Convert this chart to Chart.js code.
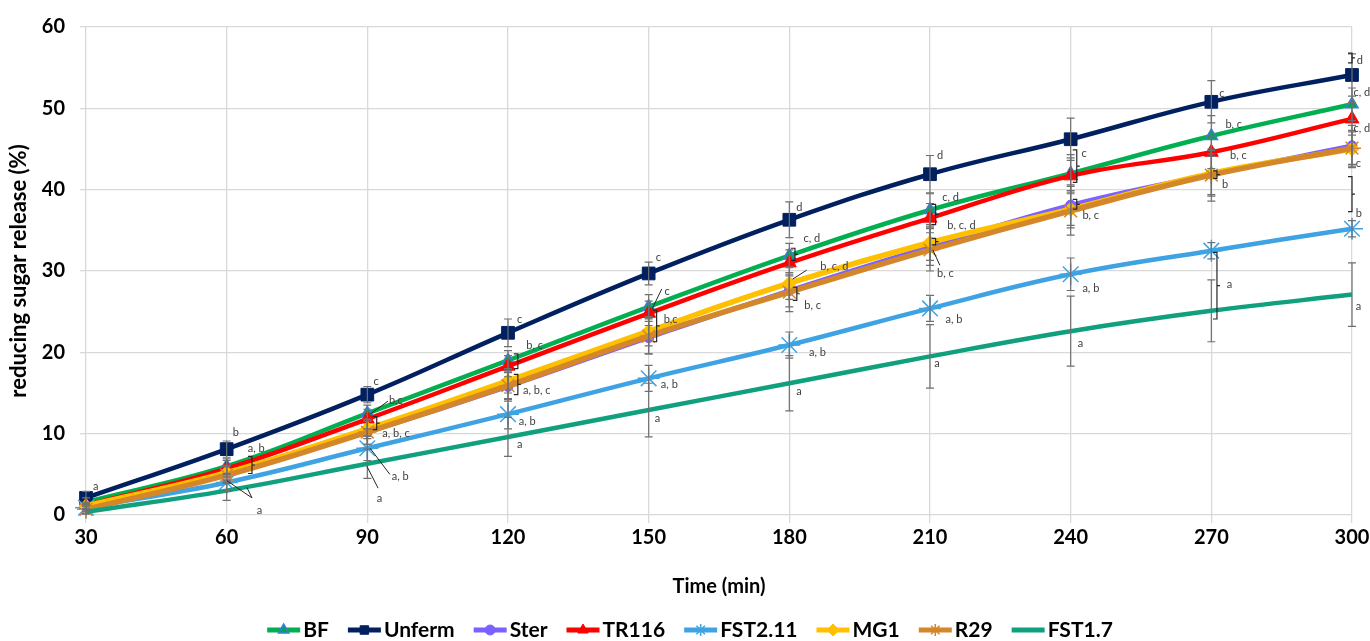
<!DOCTYPE html>
<html>
<head>
<meta charset="utf-8">
<script src="https://cdn.jsdelivr.net/npm/chart.js@4.4.0/dist/chart.umd.min.js"></script>
<style>
    html, body { margin: 0; padding: 0; background: #fff; }
    #wrap { width: 1370px; height: 641px; }
</style>
</head>
<body>
<div id="wrap"><canvas id="grafico" width="1370" height="641"></canvas></div>
<script>
// eixo x (min) e eixo y (%)
const tempos = [30, 60, 90, 120, 150, 180, 210, 240, 270, 300];
const ticksY = [0, 10, 20, 30, 40, 50, 60];
const nomes = ['BF', 'Unferm', 'Ster', 'TR116', 'FST2.11', 'MG1', 'R29', 'FST1.7'];

// medias
const bf      = [1.6, 6.0, 12.5, 19.0, 25.6, 31.9, 37.5, 42.0, 46.6, 50.5];
const unferm  = [2.1, 8.1, 14.8, 22.4, 29.7, 36.3, 41.9, 46.2, 50.8, 54.1];
const ster    = [1.0, 5.0, 10.2, 15.8, 21.8, 27.6, 33.0, 38.1, 41.9, 45.4];
const tr116   = [1.2, 5.7, 11.8, 18.3, 24.8, 31.0, 36.5, 41.7, 44.6, 48.7];
const fst211  = [0.9, 4.0, 8.2, 12.4, 16.8, 20.9, 25.4, 29.6, 32.5, 35.2];
const mg1     = [1.1, 5.2, 10.6, 16.5, 22.6, 28.5, 33.5, 37.6, 42.0, 45.0];
const r29     = [0.7, 4.9, 10.2, 15.9, 22.0, 27.4, 32.6, 37.4, 41.8, 45.1];
const fst17   = [0.4, 3.0, 6.3, 9.6, 12.9, 16.2, 19.5, 22.6, 25.1, 27.1];

// desvios (barras de erro)
const dpBf     = [0.5, 0.9, 1.0, 1.2, 1.5, 1.5, 2.0, 2.3, 2.5, 2.0];
const dpUnferm = [0.8, 1.0, 1.0, 1.7, 1.4, 2.2, 2.3, 2.6, 2.6, 2.6];
const dpSter   = [0.4, 1.0, 1.5, 1.8, 2.0, 2.0, 2.3, 2.5, 2.5, 2.5];
const dpTr116  = [0.4, 1.0, 1.2, 1.3, 1.5, 1.6, 1.8, 2.2, 2.0, 2.0];
const dpFst211 = [0.5, 1.0, 1.5, 1.8, 1.6, 1.6, 1.6, 2.0, 1.0, 1.0];
const dpMg1    = [0.4, 0.9, 1.2, 1.5, 1.8, 2.0, 2.2, 2.3, 2.8, 2.3];
const dpR29    = [0.5, 1.0, 1.5, 1.6, 2.2, 2.4, 2.6, 3.0, 3.2, 2.0];
const dpFst17  = [0.3, 1.2, 1.8, 2.4, 3.3, 3.4, 3.9, 4.3, 3.8, 3.9];

// letras de significancia: [tempo, valor, texto]
const letras = [
    [31.5, 3.5, 'a'],
    [61.3, 10.2, 'b'], [64.5, 8.2, 'a, b'], [66.4, 0.6, 'a'],
    [91.3, 16.4, 'c'], [94.6, 14.1, 'b,c'], [93.2, 10.0, 'a, b, c'], [95.2, 4.7, 'a, b'], [92.0, 2.0, 'a'],
    [121.9, 24.1, 'c'], [123.9, 20.9, 'b, c'], [123.2, 15.3, 'a, b, c'], [122.3, 11.5, 'a, b'], [121.9, 8.7, 'a'],
    [151.5, 31.7, 'c'], [153.4, 27.5, 'c'], [153.2, 24.1, 'b,c'], [152.6, 16.0, 'a, b'], [151.3, 11.9, 'a'],
    [181.5, 37.8, 'd'], [183.0, 34.0, 'c, d'], [186.6, 30.6, 'b, c, d'], [183.2, 25.8, 'b, c'], [184.2, 20.0, 'a, b'], [181.5, 15.2, 'a'],
    [211.5, 44.2, 'd'], [212.6, 39.0, 'c, d'], [213.7, 35.6, 'b, c, d'], [211.5, 29.7, 'b, c'], [213.3, 24.1, 'a, b'], [210.9, 18.6, 'a'],
    [242.3, 44.4, 'c'], [242.5, 36.8, 'b, c'], [242.5, 27.9, 'a, b'], [241.5, 21.1, 'a'],
    [271.7, 51.8, 'c'], [273.0, 48.0, 'b, c'], [274.0, 44.2, 'b, c'], [272.3, 40.6, 'b'], [273.3, 28.3, 'a'],
    [301.0, 55.9, 'd'], [300.3, 51.9, 'c, d'], [300.3, 47.5, 'c, d'], [300.8, 43.2, 'c'], [300.8, 37.1, 'b'], [300.8, 25.6, 'a']
];

// chaves "]" agrupando pontos: [tempo, topo, base]
const chaves = [
    [65.4, 7.2, 5.1], [92.0, 12.1, 10.5],
    [122.1, 19.8, 18.0], [122.1, 17.3, 14.8],
    [151.7, 25.2, 21.3],
    [181.2, 32.8, 31.3], [181.6, 28.0, 26.4],
    [211.2, 38.2, 35.7], [211.2, 34.0, 33.2],
    [241.3, 44.9, 40.9], [241.3, 38.8, 37.6],
    [271.2, 32.3, 24.1], [271.2, 42.3, 41.4],
    [300.0, 56.8, 55.6], [300.0, 41.6, 37.3]
];

// linhas guia das letras: [t1, v1, t2, v2]
const guias = [
    [60.1, 4.2, 65.4, 2.1], [64.3, 3.4, 65.4, 2.1],
    [90.6, 12.4, 94.4, 14.0], [90.6, 8.2, 94.8, 5.0], [89.9, 6.0, 92.3, 3.3],
    [150.7, 25.3, 152.8, 27.8],
    [180.7, 29.0, 183.7, 30.1],
    [210.6, 32.6, 212.1, 30.7]
];

const FONTE = 'Lato, "Liberation Sans", sans-serif';

function serie(nome, valores, dp, cor, estilo) {
    return Object.assign({
        label: nome,
        data: valores.map((v, i) => ({ x: tempos[i], y: v })),
        erro: dp,
        borderColor: cor,
        backgroundColor: cor,
        pointBackgroundColor: cor,
        pointBorderColor: cor,
        pointBorderWidth: 1,
        borderWidth: 4.5,
        tension: 0.4,
        clip: false
    }, estilo);
}

const dados = {
    datasets: [
        serie('BF', bf, dpBf, '#00B050', { pointStyle: 'triangle', pointRadius: 7, pointBackgroundColor: '#00A650', pointBorderColor: '#3C7DD9', pointBorderWidth: 1.5, order: 8 }),
        serie('Unferm', unferm, dpUnferm, '#002060', { pointStyle: 'rect', pointRadius: 9, order: 7 }),
        serie('Ster', ster, dpSter, '#7B61FF', { pointStyle: 'circle', pointRadius: 5, order: 6 }),
        serie('TR116', tr116, dpTr116, '#FF0000', { pointStyle: 'triangle', pointRadius: 8, order: 5 }),
        serie('FST2.11', fst211, dpFst211, '#3FA3E3', { pointStyle: 'star', pointRadius: 11, pointBorderWidth: 1.5, pointBackgroundColor: 'transparent', order: 4 }),
        serie('MG1', mg1, dpMg1, '#FFC000', { pointStyle: 'rectRot', pointRadius: 7, borderWidth: 5.5, order: 3 }),
        serie('R29', r29, dpR29, '#D4862A', { pointStyle: 'star', pointRadius: 9, pointBorderWidth: 1.5, pointBackgroundColor: 'transparent', borderWidth: 5.5, order: 2 }),
        serie('FST1.7', fst17, dpFst17, '#10A07E', { pointRadius: 0, borderWidth: 4.5, order: 1 })
    ]
};

// barras de erro, chaves, guias e letras
const pluginAnotacoes = {
    id: 'anotacoes',
    afterDatasetsDraw(chart) {
        const ctx = chart.ctx;
        const sx = chart.scales.x;
        const sy = chart.scales.y;
        ctx.save();

        ctx.strokeStyle = '#707070';
        ctx.lineWidth = 1.2;
        chart.data.datasets.forEach((ds) => {
            ds.data.forEach((p, i) => {
                const x = sx.getPixelForValue(p.x);
                const yA = sy.getPixelForValue(p.y + ds.erro[i]);
                const yB = sy.getPixelForValue(p.y - ds.erro[i]);
                ctx.beginPath();
                ctx.moveTo(x, yA); ctx.lineTo(x, yB);
                ctx.moveTo(x - 4, yA); ctx.lineTo(x + 4, yA);
                ctx.moveTo(x - 4, yB); ctx.lineTo(x + 4, yB);
                ctx.stroke();
            });
        });

        ctx.strokeStyle = '#262626';
        ctx.lineWidth = 1.2;
        chaves.forEach((c) => {
            const x = sx.getPixelForValue(c[0]);
            const yA = sy.getPixelForValue(c[1]);
            const yB = sy.getPixelForValue(c[2]);
            ctx.beginPath();
            ctx.moveTo(x - 4, yA); ctx.lineTo(x, yA); ctx.lineTo(x, yB); ctx.lineTo(x - 4, yB);
            ctx.moveTo(x, (yA + yB) / 2); ctx.lineTo(x + 3, (yA + yB) / 2);
            ctx.stroke();
        });

        ctx.lineWidth = 1;
        guias.forEach((g) => {
            ctx.beginPath();
            ctx.moveTo(sx.getPixelForValue(g[0]), sy.getPixelForValue(g[1]));
            ctx.lineTo(sx.getPixelForValue(g[2]), sy.getPixelForValue(g[3]));
            ctx.stroke();
        });

        ctx.fillStyle = '#404040';
        ctx.font = '11px ' + FONTE;
        ctx.textAlign = 'left';
        ctx.textBaseline = 'middle';
        letras.forEach((l) => {
            ctx.fillText(l[2], sx.getPixelForValue(l[0]), sy.getPixelForValue(l[1]));
        });
        ctx.restore();
    }
};

// legenda desenhada a mao (linha + marcador + texto)
const pluginLegenda = {
    id: 'legendaLinhas',
    afterDraw(chart) {
        const ctx = chart.ctx;
        const compLinha = 33;
        const espTexto = 3;
        const espItem = 19;
        const yLeg = 630;
        ctx.save();
        ctx.font = 'bold 21px ' + FONTE;
        ctx.textBaseline = 'middle';
        ctx.textAlign = 'left';
        const larguras = chart.data.datasets.map((ds) => ctx.measureText(ds.label).width);
        let total = 0;
        larguras.forEach((w) => { total += compLinha + espTexto + w + espItem; });
        total -= espItem;
        let x = 690 - total / 2;
        chart.data.datasets.forEach((ds, i) => {
            ctx.strokeStyle = ds.borderColor;
            ctx.lineWidth = 5;
            ctx.beginPath();
            ctx.moveTo(x, yLeg); ctx.lineTo(x + compLinha, yLeg);
            ctx.stroke();
            if (ds.pointRadius > 0 && Chart.helpers && Chart.helpers.drawPoint) {
                ctx.fillStyle = ds.pointBackgroundColor;
                ctx.strokeStyle = ds.pointBorderColor;
                ctx.lineWidth = ds.pointBorderWidth;
                Chart.helpers.drawPoint(ctx, {
                    pointStyle: ds.pointStyle,
                    radius: Math.min(ds.pointRadius, 6),
                    rotation: 0,
                    borderWidth: ds.pointBorderWidth
                }, x + compLinha / 2, yLeg);
            }
            ctx.fillStyle = '#000';
            ctx.fillText(ds.label, x + compLinha + espTexto, yLeg);
            x += compLinha + espTexto + larguras[i] + espItem;
        });
        ctx.restore();
    }
};

const config = {
    type: 'line',
    data: dados,
    options: {
        responsive: false,
        animation: false,
        layout: { padding: { top: 22, right: 18, bottom: 42, left: 0 } },
        plugins: {
            legend: { display: false },
            tooltip: { enabled: false }
        },
        scales: {
            x: {
                type: 'linear',
                min: 30,
                max: 300,
                afterFit: (escala) => {
                    escala.height = 84;
                    escala.paddingRight = 0;
                    escala.paddingLeft = 0;
                },
                ticks: {
                    stepSize: 30,
                    color: '#000',
                    padding: 3,
                    font: { family: FONTE, size: 20, weight: 'bold' }
                },
                grid: { color: '#d9d9d9', lineWidth: 1.3, tickLength: 8 },
                border: { display: false },
                title: {
                    display: true,
                    text: 'Time (min)',
                    color: '#000',
                    padding: { top: 0, bottom: 0 },
                    font: { family: FONTE, size: 20, weight: 'bold' }
                }
            },
            y: {
                min: 0,
                max: 60,
                afterFit: (escala) => { escala.width = 86; },
                afterBuildTicks: (escala) => { escala.ticks = ticksY.map((v) => ({ value: v })); },
                ticks: {
                    color: '#000',
                    padding: 15,
                    font: { family: FONTE, size: 20, weight: 'bold' }
                },
                grid: { color: '#d9d9d9', lineWidth: 1.3, tickLength: 6 },
                border: { display: false },
                title: {
                    display: true,
                    text: 'reducing sugar release (%)',
                    color: '#000',
                    padding: { top: 6, bottom: 0 },
                    font: { family: FONTE, size: 22, weight: 'bold' }
                }
            }
        }
    },
    plugins: [pluginAnotacoes, pluginLegenda]
};

const grafico = new Chart(document.getElementById('grafico'), config);
</script>
</body>
</html>
